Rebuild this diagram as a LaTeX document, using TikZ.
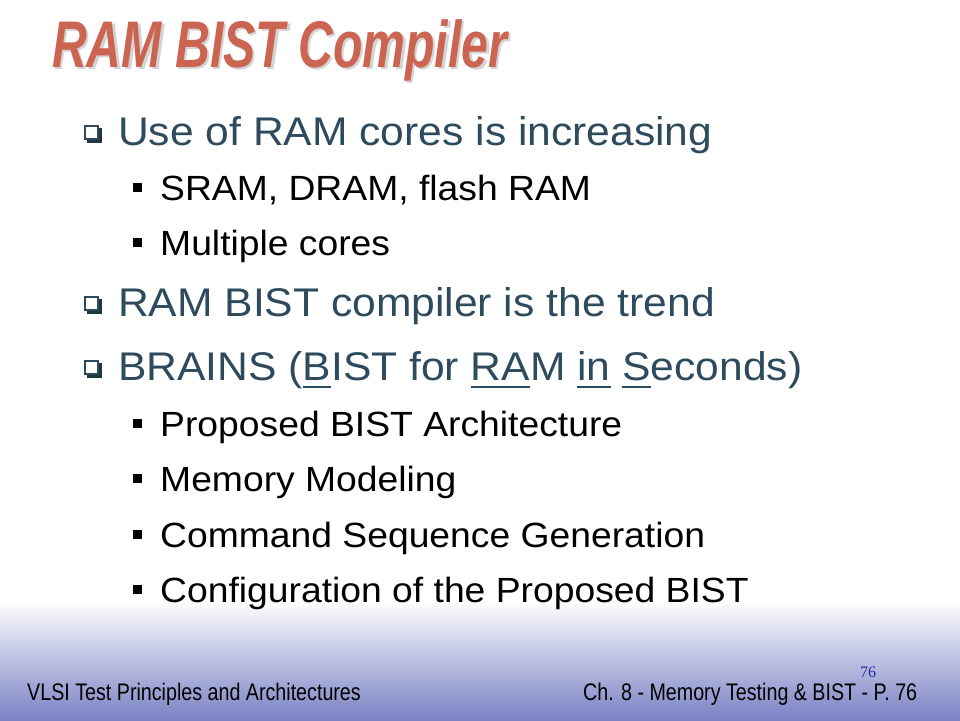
\documentclass[tikz,border=0pt]{standalone}
\usepackage{fontspec}
\setmainfont{Liberation Sans}
\newfontfamily\itemfont[FakeStretch=1.065]{Liberation Sans}
\newfontfamily\footfont[FakeStretch=0.82]{Liberation Sans}
\newfontfamily\pagenumfont{Liberation Serif}
\definecolor{titlered}{RGB}{204,100,82}
\definecolor{titleshadow}{RGB}{212,212,212}
\definecolor{itemblue}{RGB}{46,75,94}
\definecolor{footblue}{RGB}{122,130,196}
\definecolor{pageblue}{RGB}{40,40,170}
\newcommand{\brainsul}[1]{\setbox0\hbox{#1}\rlap{\rule[-8pt]{\wd0}{1.8pt}}#1}
\tikzset{
  levelone/.style={anchor=base west, inner sep=0pt, text=itemblue, font=\itemfont\fontsize{40}{40}\selectfont},
  leveltwo/.style={anchor=base west, inner sep=0pt, text=black, font=\itemfont\fontsize{35}{35}\selectfont},
  footer/.style={anchor=base west, inner sep=0pt, text=black, font=\footfont\fontsize{24}{24}\selectfont},
  hollowbox/.style={draw=itemblue, line width=2pt},
  solidbox/.style={fill=black}
}
\begin{document}
\begin{tikzpicture}[x=1pt,y=-1pt]
  \useasboundingbox (0,0) rectangle (960,720);
  \shade[top color=white, bottom color=footblue] (0,600) rectangle (960,720);
  \node[anchor=base west, inner sep=0pt, text=titleshadow, font=\fontsize{66}{66}\selectfont\bfseries\itshape] (titleshadow) at (54.5,69.5) {\scalebox{0.73}[1]{RAM BIST Compiler}};
  \node[anchor=base west, inner sep=0pt, text=titlered, font=\fontsize{66}{66}\selectfont\bfseries\itshape] (title) at (52,67) {\scalebox{0.73}[1]{RAM BIST Compiler}};
  \draw[hollowbox] (85,126) rectangle (98,139);
  \draw[itemblue!70!black, line width=3pt] (87,141) -- (100.5,141) -- (100.5,127.5);
  \node[levelone] (cores) at (118,145) {Use of RAM cores is increasing};
  \fill[solidbox] (133,183) rectangle (142,192);
  \node[leveltwo] (sram) at (160,200) {SRAM, DRAM, flash RAM};
  \fill[solidbox] (133,238) rectangle (142,247);
  \node[leveltwo] (multi) at (160,255) {Multiple cores};
  \draw[hollowbox] (85,297) rectangle (98,310);
  \draw[itemblue!70!black, line width=3pt] (87,312) -- (100.5,312) -- (100.5,298.5);
  \node[levelone] (trend) at (118,316) {RAM BIST compiler is the trend};
  \draw[hollowbox] (85,361) rectangle (98,374);
  \draw[itemblue!70!black, line width=3pt] (87,376) -- (100.5,376) -- (100.5,362.5);
  \node[levelone] (brains) at (118,380) {BRAINS (\brainsul{B}IST for \brainsul{RA}M \brainsul{in} \brainsul{S}econds)};
  \fill[solidbox] (133,419) rectangle (142,428);
  \node[leveltwo] (arch) at (160,436) {Proposed BIST Architecture};
  \fill[solidbox] (133,474) rectangle (142,483);
  \node[leveltwo] (model) at (160,491) {Memory Modeling};
  \fill[solidbox] (133,530) rectangle (142,539);
  \node[leveltwo] (cmdseq) at (160,547) {Command Sequence Generation};
  \fill[solidbox] (133,585) rectangle (142,594);
  \node[leveltwo] (config) at (160,602) {Configuration of the Proposed BIST};
  \node[footer] (book) at (27,700) {VLSI Test Principles and Architectures};
  \node[footer] (chapter) at (583,700) {Ch. 8 - Memory Testing \& BIST - P. 76};
  \node[anchor=base, inner sep=0pt, text=pageblue, font=\pagenumfont\fontsize{16}{16}\selectfont] (pagenum) at (868,677) {76};
\end{tikzpicture}
\end{document}
